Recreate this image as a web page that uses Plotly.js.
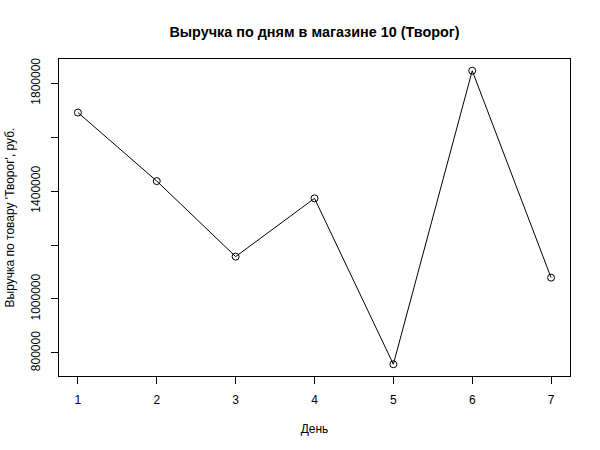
<!DOCTYPE html>
<html>
<head>
<meta charset="utf-8">
<script src="https://cdn.plot.ly/plotly-3.0.1.min.js"></script>
<style>html,body{margin:0;padding:0;background:#fff;}#chart{width:600px;height:450px;}</style>
</head>
<body>
<div id="chart"></div>
<script>
const days = [1, 2, 3, 4, 5, 6, 7];
const revenue = [1691000, 1437000, 1157000, 1373000, 758000, 1846000, 1079000];
const yTickVals = [800000, 1000000, 1200000, 1400000, 1600000, 1800000];
const yTickText = ['800000', '1000000', '', '1400000', '', '1800000'];
const xTickVals = [1, 2, 3, 4, 5, 6, 7];

const font = 'Liberation Sans, Arial, Helvetica, sans-serif';

const trace = {
  x: days,
  y: revenue,
  type: 'scatter',
  mode: 'lines+markers',
  line: {color: '#000', width: 1},
  marker: {symbol: 'circle-open', size: 7, color: '#000', line: {color: '#000', width: 1}},
  hoverinfo: 'x+y'
};

const ymin = Math.min(...revenue), ymax = Math.max(...revenue);
const pad = (ymax - ymin) * 0.04;

const layout = {
  width: 600,
  height: 450,
  margin: {l: 59, r: 30, t: 59, b: 74},
  paper_bgcolor: '#fff',
  plot_bgcolor: '#fff',
  showlegend: false,
  font: {family: font, size: 12, color: '#000'},
  title: {
    text: '<b>Выручка по дням в магазине 10 (Творог)</b>',
    font: {family: font, size: 14.4, color: '#000'},
    x: 0.5, xref: 'paper', xanchor: 'center',
    y: 1 - 32 / 450, yref: 'container', yanchor: 'middle'
  },
  xaxis: {
    range: [1 - 0.24, 7 + 0.24],
    tickvals: xTickVals,
    ticktext: xTickVals.map(String),
    ticks: 'outside', ticklen: 7, tickcolor: '#000', tickwidth: 1,
    showline: true, linecolor: '#000', linewidth: 1, mirror: true,
    showgrid: false, zeroline: false,
    ticklabelstandoff: 6,
    title: {text: 'День', font: {family: font, size: 12, color: '#000'}, standoff: 18},
    automargin: false
  },
  yaxis: {
    range: [ymin - pad, ymax + pad],
    tickvals: yTickVals,
    ticktext: yTickText,
    tickangle: -90,
    ticks: 'outside', ticklen: 7, tickcolor: '#000', tickwidth: 1,
    showline: true, linecolor: '#000', linewidth: 1, mirror: true,
    showgrid: false, zeroline: false,
    ticklabelstandoff: 6,
    title: {text: 'Выручка по товару \'Творог\', руб.', font: {family: font, size: 12, color: '#000'}, standoff: 12},
    automargin: false
  }
};

Plotly.newPlot('chart', [trace], layout, {displayModeBar: false, staticPlot: true});
</script>
</body>
</html>
